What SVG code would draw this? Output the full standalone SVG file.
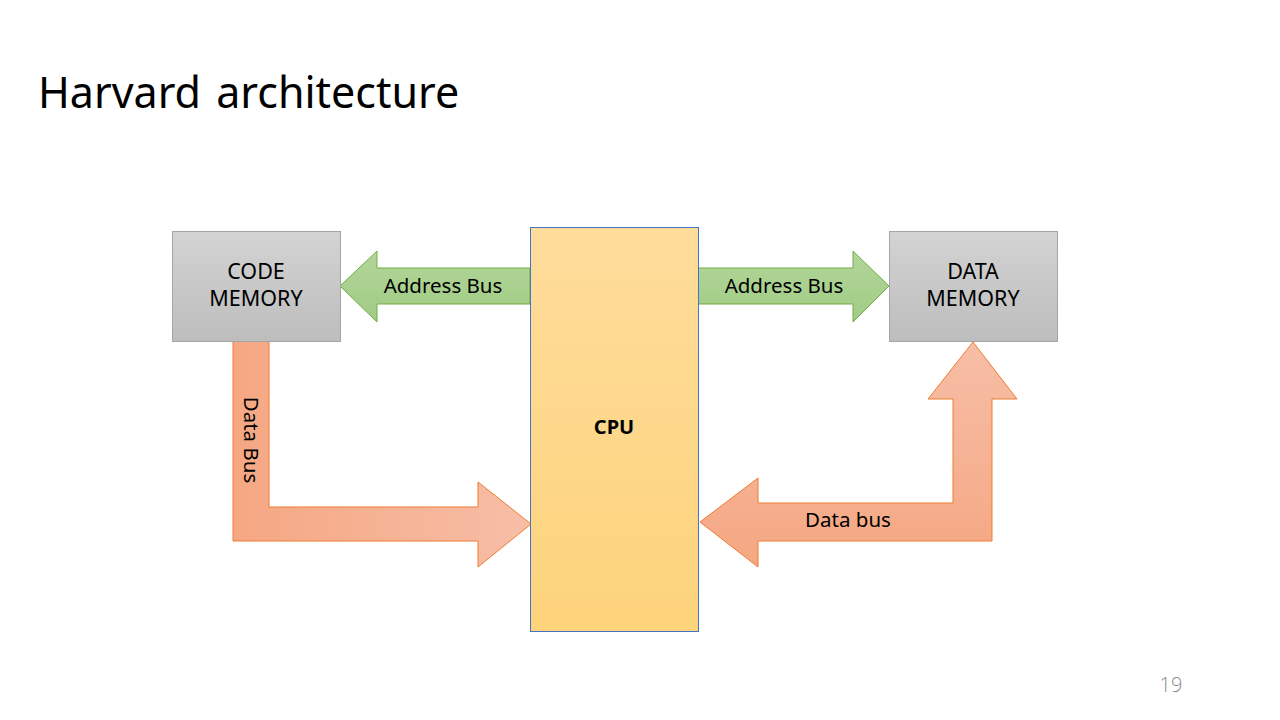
<svg xmlns="http://www.w3.org/2000/svg" width="1280" height="720" viewBox="0 0 1280 720">
<defs>
<linearGradient id="gGray" x1="0" y1="0" x2="0" y2="1"><stop offset="0" stop-color="#D3D3D3"/><stop offset="1" stop-color="#BDBDBD"/></linearGradient>
<linearGradient id="gCpu" x1="0" y1="0" x2="0" y2="1"><stop offset="0" stop-color="#FEDC9B"/><stop offset="1" stop-color="#FDD37B"/></linearGradient>
<linearGradient id="gGreen" x1="0" y1="0" x2="0" y2="1"><stop offset="0" stop-color="#B2D69A"/><stop offset="1" stop-color="#A1CB84"/></linearGradient>
<linearGradient id="gOrH" gradientUnits="userSpaceOnUse" x1="233" y1="0" x2="531" y2="0"><stop offset="0" stop-color="#F5A782"/><stop offset="1" stop-color="#F7BEA7"/></linearGradient>
<linearGradient id="gOrV" gradientUnits="userSpaceOnUse" x1="0" y1="342" x2="0" y2="567"><stop offset="0" stop-color="#F7BEA7"/><stop offset="1" stop-color="#F5A782"/></linearGradient>
<style>
.t{font-family:"Noto Sans","Open Sans","Liberation Sans",sans-serif;fill:#000}
.lbl{font-size:20.5px;text-anchor:middle}
.ml{font-size:21.5px;text-anchor:middle}
.mem{stroke:#A5A5A5;stroke-width:1;fill:url(#gGray)}
.grn{fill:url(#gGreen);stroke:#70AD47;stroke-width:1}
.org{stroke:#ED7D31;stroke-width:1}
</style>
</defs>
<rect width="1280" height="720" fill="#FFFFFF"/>
<text class="t" x="38" y="108" font-size="43" word-spacing="4">Harvard architecture</text>
<g id="connectors">
<g id="addr-left">
<polygon class="grn" points="530,268 377,268 377,251 340,286 377,322 377,304 530,304"/>
<text class="t lbl" x="443" y="293">Address Bus</text>
</g>
<g id="addr-right">
<polygon class="grn" points="698,268 853,268 853,251 889,286 853,322 853,304 698,304"/>
<text class="t lbl" x="784" y="293">Address Bus</text>
</g>
<g id="data-left">
<polygon class="org" fill="url(#gOrH)" points="233,341 269,341 269,507 478,507 478,482 531,524 478,567 478,541 233,541"/>
<text class="t lbl" transform="translate(244,440) rotate(90)" x="0" y="0">Data Bus</text>
</g>
<g id="data-right">
<polygon class="org" fill="url(#gOrV)" points="700,522 758,478 758,503 953,503 953,399 928,399 973,342 1017,399 992,399 992,541 758,541 758,567"/>
<text class="t lbl" x="848" y="527">Data bus</text>
</g>
</g>
<g id="code-memory">
<rect class="mem" x="172.5" y="231.5" width="168" height="110"/>
<text class="t ml" x="256" y="279">CODE</text>
<text class="t ml" x="256" y="306">MEMORY</text>
</g>
<g id="data-memory">
<rect class="mem" x="889.5" y="231.5" width="168" height="110"/>
<text class="t ml" x="973" y="279">DATA</text>
<text class="t ml" x="973" y="306">MEMORY</text>
</g>
<g id="cpu">
<rect x="530.5" y="227.5" width="168" height="404" fill="url(#gCpu)" stroke="#4472C4" stroke-width="1"/>
<text class="t" x="614" y="434" font-size="20" font-weight="bold" text-anchor="middle">CPU</text>
</g>
<text x="1171" y="692" font-family="'Open Sans','Noto Sans',sans-serif" font-size="20" fill="#8C8C8C" text-anchor="middle" font-weight="300">19</text>
</svg>
